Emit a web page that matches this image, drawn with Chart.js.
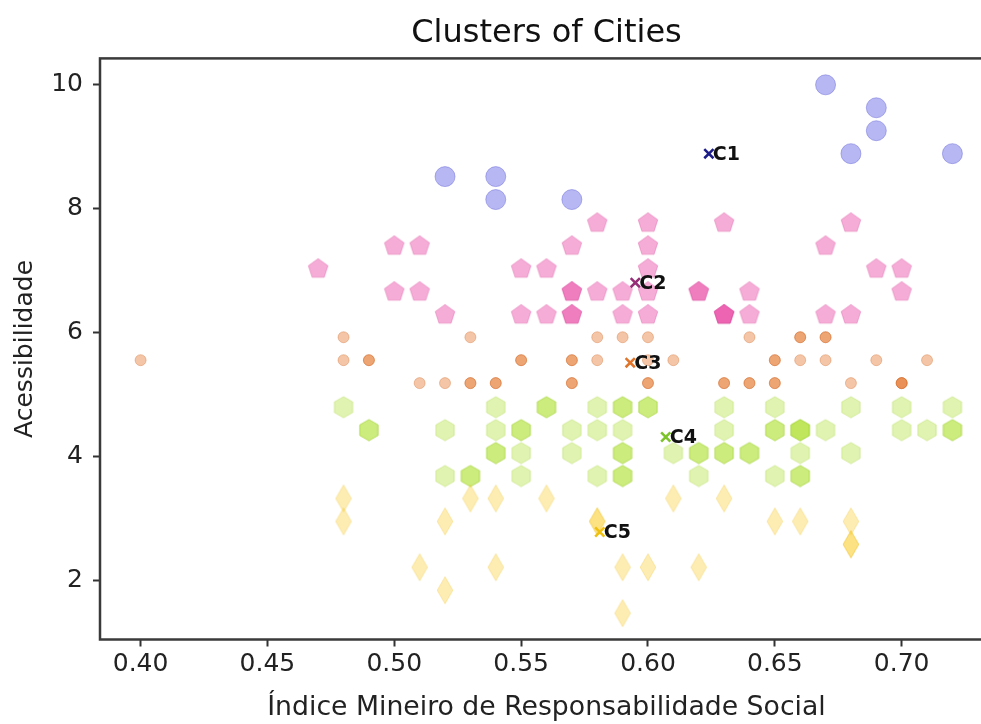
<!DOCTYPE html>
<html><head><meta charset="utf-8">
<script src="https://cdn.jsdelivr.net/npm/chart.js@4"></script>
<style>html,body{margin:0;padding:0;background:#fff;overflow:hidden;}</style>
</head><body>
<canvas id="c" width="1005" height="724"></canvas>
<script>
// ---- text ----
const chartTitle = 'Clusters of Cities';
const xTitle = 'Índice Mineiro de Responsabilidade Social';
const yTitle = 'Acessibilidade';
const xTickValues = [0.40, 0.45, 0.50, 0.55, 0.60, 0.65, 0.70];
const yTickValues = [2, 4, 6, 8, 10];
const clusterLabels = ['C1', 'C2', 'C3', 'C4', 'C5'];

// ---- cluster C1 (circles) ----
const c1X = [0.52, 0.54, 0.54, 0.57, 0.67, 0.69, 0.69, 0.68, 0.72];
const c1Y = [8.52, 8.52, 8.15, 8.15, 10.00, 9.63, 9.26, 8.89, 8.89];

// ---- cluster C2 (pentagons) ----
const c2X = [0.58, 0.60, 0.63, 0.68,
             0.50, 0.51, 0.57, 0.60, 0.67,
             0.47, 0.55, 0.56, 0.60, 0.69, 0.70,
             0.50, 0.51, 0.57, 0.57, 0.58, 0.59, 0.60, 0.62, 0.62, 0.64, 0.70,
             0.52, 0.55, 0.56, 0.57, 0.57, 0.59, 0.60, 0.63, 0.63, 0.63, 0.64, 0.67, 0.68];
const c2Y = [7.78, 7.78, 7.78, 7.78,
             7.41, 7.41, 7.41, 7.41, 7.41,
             7.04, 7.04, 7.04, 7.04, 7.04, 7.04,
             6.67, 6.67, 6.67, 6.67, 6.67, 6.67, 6.67, 6.67, 6.67, 6.67, 6.67,
             6.30, 6.30, 6.30, 6.30, 6.30, 6.30, 6.30, 6.30, 6.30, 6.30, 6.30, 6.30, 6.30];

// ---- cluster C3 (small circles) ----
const c3X = [0.48, 0.53, 0.58, 0.59, 0.60, 0.64, 0.66, 0.66, 0.67, 0.67,
             0.40, 0.48, 0.49, 0.49, 0.55, 0.55, 0.57, 0.57, 0.58, 0.60, 0.61, 0.65, 0.65, 0.66, 0.67, 0.69, 0.71,
             0.51, 0.52, 0.53, 0.53, 0.54, 0.54, 0.57, 0.57, 0.60, 0.60, 0.63, 0.63, 0.64, 0.64, 0.65, 0.65, 0.68, 0.70, 0.70, 0.70];
const c3Y = [5.93, 5.93, 5.93, 5.93, 5.93, 5.93, 5.93, 5.93, 5.93, 5.93,
             5.56, 5.56, 5.56, 5.56, 5.56, 5.56, 5.56, 5.56, 5.56, 5.56, 5.56, 5.56, 5.56, 5.56, 5.56, 5.56, 5.56,
             5.19, 5.19, 5.19, 5.19, 5.19, 5.19, 5.19, 5.19, 5.19, 5.19, 5.19, 5.19, 5.19, 5.19, 5.19, 5.19, 5.19, 5.19, 5.19, 5.19];

// ---- cluster C4 (hexagons) ----
const c4X = [0.48, 0.54, 0.56, 0.56, 0.58, 0.59, 0.59, 0.60, 0.60, 0.63, 0.65, 0.68, 0.70, 0.72,
             0.49, 0.49, 0.52, 0.54, 0.55, 0.55, 0.57, 0.58, 0.59, 0.63, 0.65, 0.65, 0.66, 0.66, 0.66, 0.67, 0.70, 0.71, 0.72, 0.72,
             0.54, 0.54, 0.55, 0.57, 0.59, 0.59, 0.61, 0.62, 0.62, 0.63, 0.63, 0.64, 0.64, 0.66, 0.68,
             0.52, 0.53, 0.53, 0.55, 0.58, 0.59, 0.59, 0.62, 0.65, 0.66, 0.66];
const c4Y = [4.81, 4.81, 4.81, 4.81, 4.81, 4.81, 4.81, 4.81, 4.81, 4.81, 4.81, 4.81, 4.81, 4.81,
             4.44, 4.44, 4.44, 4.44, 4.44, 4.44, 4.44, 4.44, 4.44, 4.44, 4.44, 4.44, 4.44, 4.44, 4.44, 4.44, 4.44, 4.44, 4.44, 4.44,
             4.07, 4.07, 4.07, 4.07, 4.07, 4.07, 4.07, 4.07, 4.07, 4.07, 4.07, 4.07, 4.07, 4.07, 4.07,
             3.70, 3.70, 3.70, 3.70, 3.70, 3.70, 3.70, 3.70, 3.70, 3.70, 3.70];

// ---- cluster C5 (thin diamonds) ----
const c5X = [0.48, 0.53, 0.54, 0.56, 0.61, 0.63,
             0.48, 0.52, 0.58, 0.58, 0.65, 0.66, 0.68,
             0.68, 0.68,
             0.51, 0.54, 0.59, 0.60, 0.62,
             0.52,
             0.59];
const c5Y = [3.33, 3.33, 3.33, 3.33, 3.33, 3.33,
             2.96, 2.96, 2.96, 2.96, 2.96, 2.96, 2.96,
             2.59, 2.59,
             2.22, 2.22, 2.22, 2.22, 2.22,
             1.85,
             1.48];

// ---- centroids ----
const centroidX = [0.624, 0.595, 0.593, 0.607, 0.581];
const centroidY = [8.89, 6.81, 5.52, 4.32, 2.79];

// ---------------------------------------------------------------
const FONT = "'DejaVu Sans', sans-serif";
const pts = (xs, ys) => xs.map((x, i) => ({x: x, y: ys[i]}));

function makeMarker(shape, fill, stroke) {
  const cv = document.createElement('canvas');
  const W = shape === 'diamond' ? 18 : 24, H = shape === 'diamond' ? 30 : 24;
  cv.width = W; cv.height = H;
  const g = cv.getContext('2d');
  const cx = W / 2, cy = H / 2;
  g.beginPath();
  if (shape === 'pentagon' || shape === 'hexagon') {
    const n = shape === 'pentagon' ? 5 : 6;
    const r = shape === 'pentagon' ? 10.3 : 10.6;
    for (let i = 0; i < n; i++) {
      const a = -Math.PI / 2 + i * 2 * Math.PI / n;
      const px = cx + r * Math.cos(a), py = cy + 0.5 + r * Math.sin(a);
      if (i === 0) g.moveTo(px, py); else g.lineTo(px, py);
    }
  } else {
    g.moveTo(cx, cy - 13.5); g.lineTo(cx + 7.8, cy); g.lineTo(cx, cy + 13.5); g.lineTo(cx - 7.8, cy);
  }
  g.closePath();
  g.fillStyle = fill; g.fill();
  g.lineWidth = 1; g.strokeStyle = stroke; g.stroke();
  return cv;
}

const pentagon = makeMarker('pentagon', 'rgba(232,72,165,0.45)', 'rgba(215,60,150,0.35)');
const hexagon = makeMarker('hexagon', 'rgba(168,222,35,0.36)', 'rgba(150,205,25,0.3)');
const diamond = makeMarker('diamond', 'rgba(250,205,45,0.36)', 'rgba(240,190,30,0.3)');

const framePlugin = {
  id: 'frame',
  afterDatasetsDraw(chart) {
    const {ctx, chartArea: a} = chart;
    ctx.save();
    ctx.strokeStyle = '#3a3a3a';
    ctx.lineWidth = 2.5;
    ctx.strokeRect(a.left, a.top, a.right - a.left, a.bottom - a.top);
    ctx.restore();
  }
};

const labelPlugin = {
  id: 'centroidLabels',
  afterDatasetsDraw(chart) {
    const idx = chart.data.datasets.findIndex(d => d.isCentroid);
    const meta = chart.getDatasetMeta(idx);
    const ctx = chart.ctx;
    ctx.save();
    ctx.font = 'bold 19px ' + FONT;
    ctx.fillStyle = '#111';
    ctx.textAlign = 'left';
    ctx.textBaseline = 'middle';
    meta.data.forEach((el, i) => ctx.fillText(clusterLabels[i], el.x + 4, el.y + 1));
    ctx.restore();
  }
};

const tickFix = values => scale => { scale.ticks = values.map(v => ({value: v})); };

new Chart(document.getElementById('c'), {
  type: 'scatter',
  data: {
    datasets: [
      {label: 'C1', data: pts(c1X, c1Y), pointStyle: 'circle', pointRadius: 10,
       backgroundColor: 'rgba(112,112,232,0.5)', borderColor: 'rgba(100,100,215,0.45)', borderWidth: 1, order: 5},
      {label: 'C2', data: pts(c2X, c2Y), pointStyle: pentagon, pointRadius: 11, order: 4},
      {label: 'C3', data: pts(c3X, c3Y), pointStyle: 'circle', pointRadius: 5.5,
       backgroundColor: 'rgba(228,118,45,0.42)', borderColor: 'rgba(205,100,35,0.35)', borderWidth: 1, order: 3},
      {label: 'C4', data: pts(c4X, c4Y), pointStyle: hexagon, pointRadius: 11, order: 2},
      {label: 'C5', data: pts(c5X, c5Y), pointStyle: diamond, pointRadius: 11, order: 1},
      {label: 'centroids', isCentroid: true, data: pts(centroidX, centroidY), pointStyle: 'crossRot', pointRadius: 6.5,
       borderWidth: 2.5, borderColor: ['#1d1d8a', '#962f78', '#e0742a', '#7cc42a', '#f0c010'],
       backgroundColor: 'transparent', order: 0}
    ]
  },
  options: {
    responsive: false,
    animation: false,
    devicePixelRatio: 1,
    events: [],
    layout: {padding: {left: 0, right: 7, top: 0, bottom: 0}},
    plugins: {
      legend: {display: false},
      tooltip: {enabled: false},
      title: {display: true, text: chartTitle, fullSize: false, color: '#111',
              font: {family: FONT, size: 32, weight: 'normal'}, padding: {top: 14, bottom: 6}}
    },
    scales: {
      x: {
        type: 'linear', min: 0.384, max: 0.736,
        afterBuildTicks: tickFix(xTickValues),
        afterFit: s => { s.height = 84.5; s.paddingLeft = 0; s.paddingRight = 0; },
        ticks: {color: '#222', font: {family: FONT, size: 25}, padding: 3, maxRotation: 0,
                callback: v => v.toFixed(2)},
        grid: {drawOnChartArea: false, drawTicks: true, tickLength: 7, tickColor: '#333', tickWidth: 2},
        border: {display: false},
        title: {display: true, text: xTitle, color: '#222', font: {family: FONT, size: 26.7}, padding: {top: 0, bottom: 0}}
      },
      y: {
        type: 'linear', min: 1.056, max: 10.426,
        afterBuildTicks: tickFix(yTickValues),
        afterFit: s => { s.width = 100; s.paddingTop = 0; s.paddingBottom = 0; },
        ticks: {color: '#222', font: {family: FONT, size: 25}, padding: 10,
                callback: v => String(v)},
        grid: {drawOnChartArea: false, drawTicks: true, tickLength: 7, tickColor: '#333', tickWidth: 2},
        border: {display: false},
        title: {display: true, text: yTitle, color: '#222', font: {family: FONT, size: 25}, padding: {top: 10, bottom: 0}}
      }
    }
  },
  plugins: [framePlugin, labelPlugin]
});
</script>
</body></html>
